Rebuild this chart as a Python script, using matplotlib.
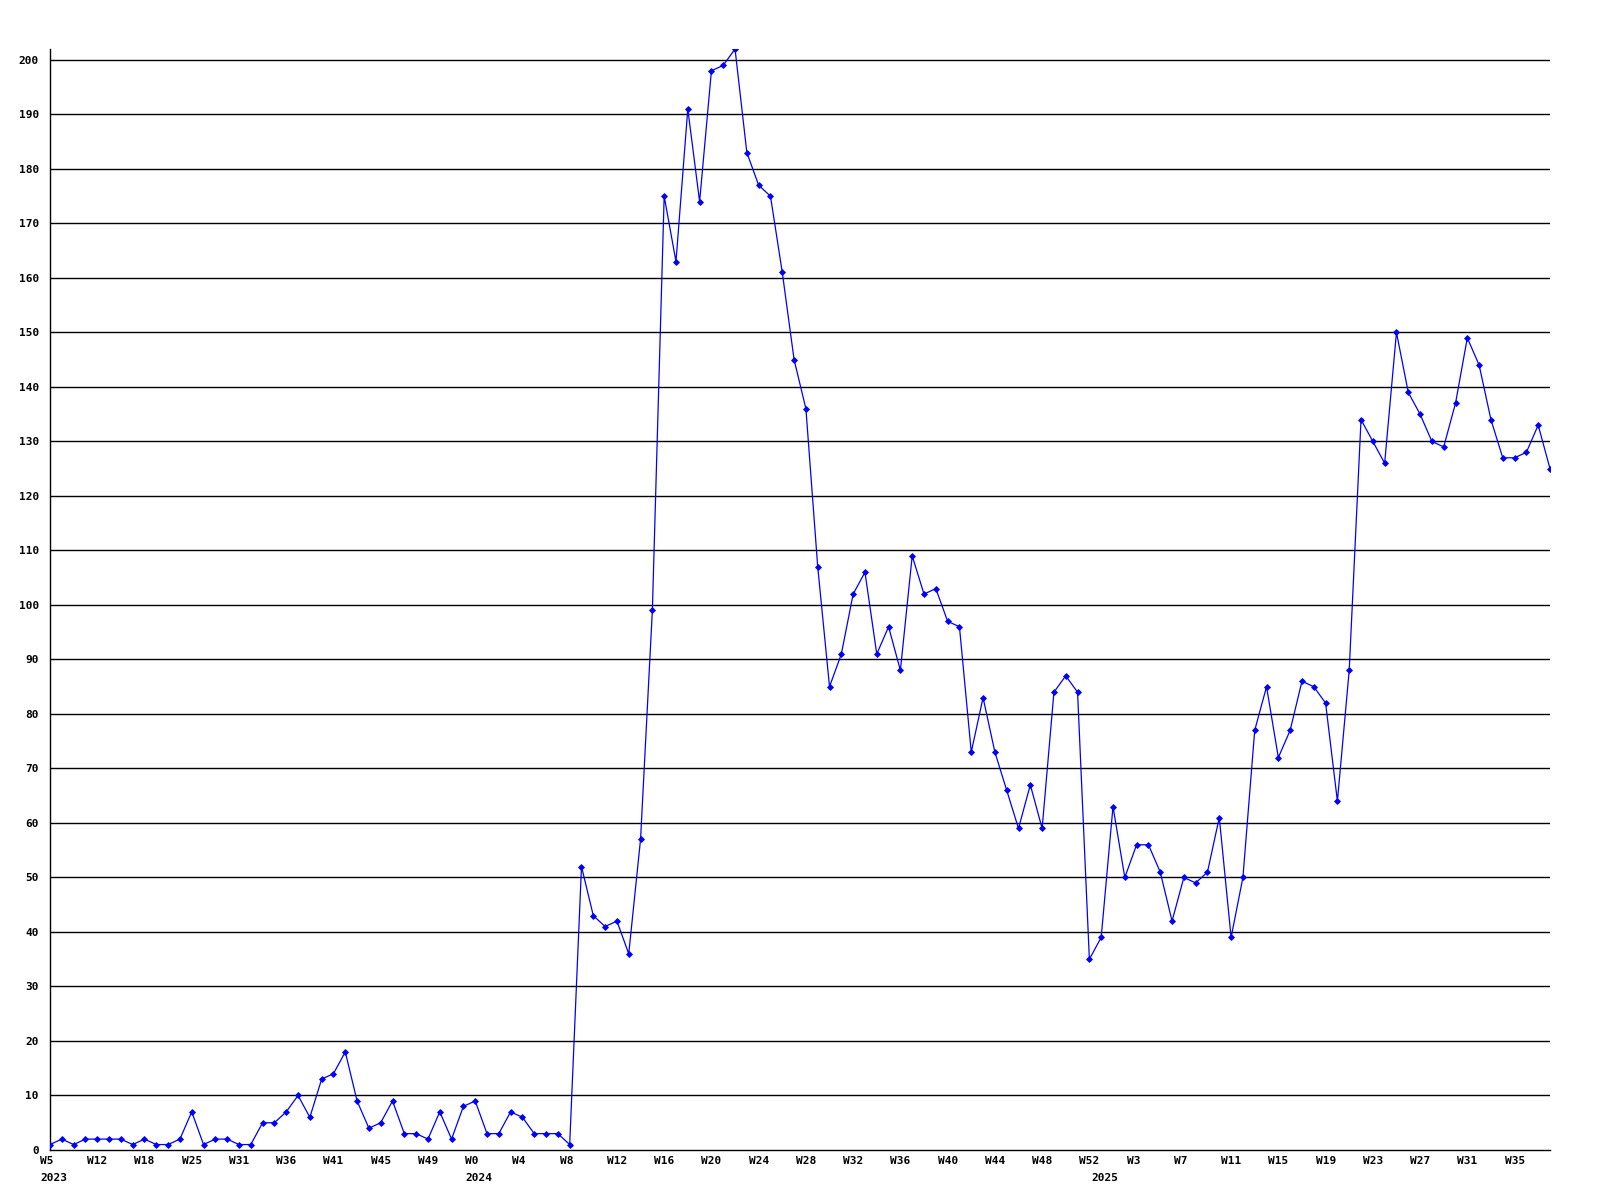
import matplotlib.pyplot as plt
import matplotlib.transforms as mtransforms

# weekly values (one point per sample, oldest first)
valores = [1, 2, 1, 2, 2, 2, 2, 1, 2, 1, 1, 2, 7, 1, 2, 2, 1, 1, 5, 5,
           7, 10, 6, 13, 14, 18, 9, 4, 5, 9, 3, 3, 2, 7, 2, 8, 9, 3, 3, 7,
           6, 3, 3, 3, 1, 52, 43, 41, 42, 36, 57, 99, 175, 163, 191, 174, 198, 199, 202, 183,
           177, 175, 161, 145, 136, 107, 85, 91, 102, 106, 91, 96, 88, 109, 102, 103, 97, 96, 73, 83,
           73, 66, 59, 67, 59, 84, 87, 84, 35, 39, 63, 50, 56, 56, 51, 42, 50, 49, 51, 61,
           39, 50, 77, 85, 72, 77, 86, 85, 82, 64, 88, 134, 130, 126, 150, 139, 135, 130, 129, 137,
           149, 144, 134, 127, 127, 128, 133, 125]

# labels every 4 points
semanas = ['W5', 'W12', 'W18', 'W25', 'W31', 'W36', 'W41', 'W45', 'W49', 'W0',
           'W4', 'W8', 'W12', 'W16', 'W20', 'W24', 'W28', 'W32', 'W36', 'W40',
           'W44', 'W48', 'W52', 'W3', 'W7', 'W11', 'W15', 'W19', 'W23', 'W27',
           'W31', 'W35']
anios = ['2023', '2024', '2025']
pos_anios = [0, 36, 89]

fuente = dict(family='DejaVu Sans Mono', weight='bold', size=8)

fig = plt.figure(figsize=(16, 12), dpi=100)
ax = fig.add_axes([50/1600, 50/1200, 1500/1600, 1101/1200])

x = list(range(len(valores)))
ax.plot(x, valores, color='#0000ff', linewidth=0.9, marker='D', markersize=3,
        markeredgewidth=0.6, zorder=3)

ax.set_xlim(0, len(valores) - 1)
ax.set_ylim(0, 202)

ax.set_yticks(range(0, 201, 10))
ax.set_yticklabels([str(v) for v in range(0, 201, 10)], fontdict=fuente)
for v in range(10, 201, 10):
    ax.axhline(v, color='black', linewidth=1.0, zorder=1)

ticks_x = list(range(0, 4 * len(semanas), 4))
ax.set_xticks(ticks_x)
ax.set_xticklabels([])

# etiquetas de semana y año, alineadas a la izquierda 10 px antes del punto
trans = mtransforms.blended_transform_factory(ax.transData, ax.transAxes)
off_sem = mtransforms.ScaledTranslation(-10/100, -6/100, fig.dpi_scale_trans)
off_anio = mtransforms.ScaledTranslation(-10/100, -23/100, fig.dpi_scale_trans)
for p, s in zip(ticks_x, semanas):
    ax.text(p, 0, s, transform=trans + off_sem, ha='left', va='top', **fuente)
for a, p in zip(anios, pos_anios):
    ax.text(p, 0, a, transform=trans + off_anio, ha='left', va='top', **fuente)

ax.tick_params(axis='both', length=0)
ax.tick_params(axis='y', pad=8)

for s in ['top', 'right']:
    ax.spines[s].set_visible(False)
ax.spines['left'].set_linewidth(1.0)
ax.spines['bottom'].set_linewidth(1.0)

fig.savefig('out.png', dpi=100)
